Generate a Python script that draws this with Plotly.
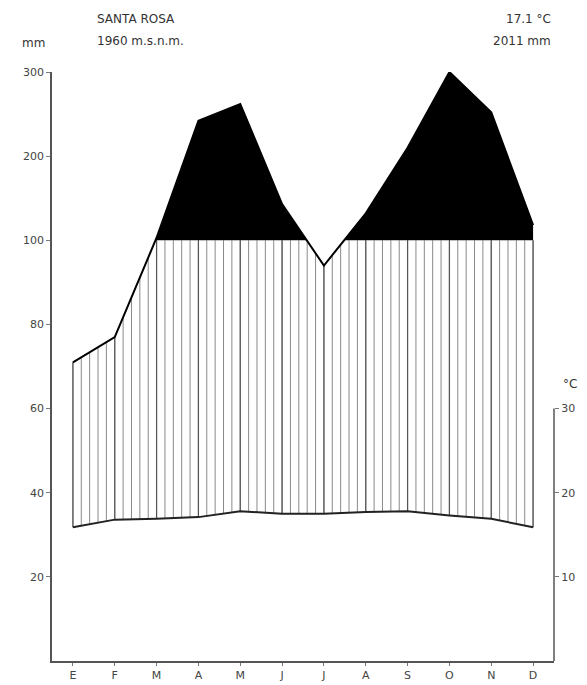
import numpy as np
import plotly.graph_objects as go

months = ["E", "F", "M", "A", "M", "J", "J", "A", "S", "O", "N", "D"]
precip_mm = [71, 77, 103, 242, 262, 143, 94, 132, 210, 300, 252, 118]
temp_c = [15.9, 16.8, 16.9, 17.1, 17.8, 17.5, 17.5, 17.7, 17.8, 17.3, 16.9, 15.9]
left_tick_vals = [20, 40, 60, 80, 100, 120, 140]
left_tick_text = ["20", "40", "60", "80", "100", "200", "300"]
right_tick_vals = [10, 20, 30]

W, H = 587, 685
ML, MR, MT, MB = 52, 33, 72, 24


def equiv(p):
    return p if p <= 100 else 100 + (p - 100) * 0.2


x = np.arange(len(months), dtype=float)
pe = np.array([equiv(p) for p in precip_mm])
te = np.array(temp_c) * 2.0

fig = go.Figure()

# hatching (humid period)
hx, hy = [], []
for xv in np.arange(0, 11.0001, 0.2):
    top = min(np.interp(xv, x, pe), 100.0)
    bot = np.interp(xv, x, te)
    if top > bot:
        hx += [xv, xv, None]
        hy += [bot, top, None]
fig.add_trace(go.Scatter(x=hx, y=hy, mode="lines",
                         line=dict(color="#8a8a8a", width=1),
                         hoverinfo="skip", showlegend=False))
mx, my = [], []
for i in range(len(months)):
    top = min(pe[i], 100.0)
    if top > te[i]:
        mx += [x[i], x[i], None]
        my += [te[i], top, None]
fig.add_trace(go.Scatter(x=mx, y=my, mode="lines",
                         line=dict(color="#555555", width=1.2),
                         hoverinfo="skip", showlegend=False))

# black fill above 100 mm
fx, fy = [], []
for i in range(len(x)):
    fx.append(x[i]); fy.append(max(pe[i], 100.0))
    if i < len(x) - 1:
        e0, e1 = pe[i], pe[i + 1]
        if (e0 - 100) * (e1 - 100) < 0:
            t = (100 - e0) / (e1 - e0)
            fx.append(x[i] + t); fy.append(100.0)
fig.add_trace(go.Scatter(x=fx, y=[100.0] * len(fx), mode="lines",
                         line=dict(color="rgba(0,0,0,0)", width=0),
                         hoverinfo="skip", showlegend=False))
fig.add_trace(go.Scatter(x=fx, y=fy, mode="lines", fill="tonexty",
                         fillcolor="black", line=dict(color="black", width=0),
                         hoverinfo="skip", showlegend=False))

# precipitation line
fig.add_trace(go.Scatter(x=x, y=pe, mode="lines",
                         line=dict(color="black", width=2),
                         hoverinfo="skip", showlegend=False))
# temperature line
fig.add_trace(go.Scatter(x=x, y=te, mode="lines",
                         line=dict(color="#222222", width=2),
                         hoverinfo="skip", showlegend=False))
# right axis carrier
fig.add_trace(go.Scatter(x=[x[0]], y=[temp_c[0]], yaxis="y2", mode="markers",
                         marker=dict(opacity=0), hoverinfo="skip", showlegend=False))

tickfont = dict(family="DejaVu Sans", size=11, color="#444444")
fig.update_layout(
    width=W, height=H,
    margin=dict(l=ML, r=MR, t=MT, b=MB, autoexpand=False),
    paper_bgcolor="white", plot_bgcolor="white",
    xaxis=dict(range=[-0.5, 11.5], tickvals=list(x), ticktext=months,
               automargin=False,
               showgrid=False, zeroline=False, showline=True,
               linecolor="#555555", linewidth=1.5,
               ticks="outside", ticklen=3, tickcolor="#777777",
               tickfont=tickfont),
    yaxis=dict(range=[0, 140], tickvals=left_tick_vals, ticktext=left_tick_text,
               automargin=False,
               showgrid=False, zeroline=False, showline=True,
               linecolor="#555555", linewidth=1.5,
               ticks="outside", ticklen=4, tickcolor="#777777",
               tickfont=tickfont),
    yaxis2=dict(range=[0, 70], overlaying="y", side="right",
                automargin=False,
                tickvals=right_tick_vals, ticktext=[str(v) for v in right_tick_vals],
                showgrid=False, zeroline=False, showline=False,
                ticks="outside", ticklen=4, tickcolor="#777777",
                tickfont=tickfont),
)

fig.add_shape(type="line", xref="paper", yref="y", x0=1, x1=1, y0=0, y1=60,
              line=dict(color="#555555", width=1.5))


def px2paper(px, py):
    return (px - ML) / (W - ML - MR), (H - MB - py) / (H - MT - MB)


txtfont = dict(family="DejaVu Sans", size=12, color="#333333")
for txt, px, py, anchor in [
    ("SANTA ROSA", 95, 19, "left"),
    ("1960 m.s.n.m.", 95, 41, "left"),
    ("17.1 °C", 553, 19, "right"),
    ("2011 mm", 553, 41, "right"),
    ("mm", 33, 43, "center"),
    ("°C", 570, 384, "center"),
]:
    ax_, ay_ = px2paper(px, py)
    fig.add_annotation(text=txt, x=ax_, y=ay_, xref="paper", yref="paper",
                       xanchor=anchor, yanchor="middle", showarrow=False,
                       font=txtfont)

fig.write_html("out.html",
               config={"displayModeBar": False},
               post_script="document.body.style.margin='0px';"
                           "document.body.style.overflow='hidden';")
